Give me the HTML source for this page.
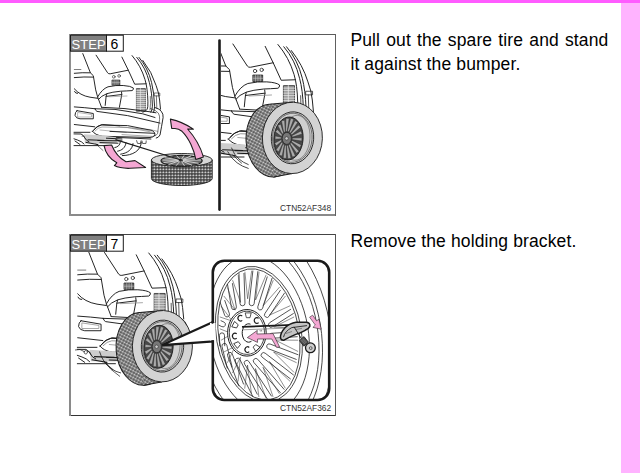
<!DOCTYPE html>
<html><head><meta charset="utf-8">
<style>
html,body{margin:0;padding:0;background:#fff;}
body{width:640px;height:473px;overflow:hidden;position:relative;font-family:"Liberation Sans",sans-serif;}
#topbar{position:absolute;left:0;top:0;width:640px;height:3px;background:#ff5cff;}
#rightbar{position:absolute;left:621px;top:3px;width:19px;height:470px;background:#ffb3ff;}
.txt{position:absolute;font-size:17.5px;letter-spacing:0.12px;color:#000;text-align:justify;text-align-last:left;}
#t1{left:350.4px;top:29px;width:258px;line-height:23.7px;}
#t2{left:350.4px;top:230px;width:258px;line-height:23.7px;}
#art{position:absolute;left:0;top:0;}
</style></head><body>
<div id="topbar"></div>
<div id="rightbar"></div>
<svg id="art" width="640" height="473" viewBox="0 0 640 473">

<defs>
 <pattern id="tread" width="3" height="3" patternUnits="userSpaceOnUse" patternTransform="rotate(32)">
  <rect width="3" height="3" fill="#454545"/>
  <rect x="0.4" y="0.4" width="2.2" height="2.2" rx="0.7" fill="#d8d8d8"/>
 </pattern>
 <pattern id="tread2" width="3" height="3" patternUnits="userSpaceOnUse">
  <rect width="3" height="3" fill="#404040"/>
  <rect x="0.4" y="0.6" width="2" height="1.7" rx="0.6" fill="#cccccc"/>
 </pattern>
 <clipPath id="c6l"><rect x="71" y="52" width="147" height="162"/></clipPath>
 <clipPath id="c6r"><rect x="221" y="36" width="114" height="178"/></clipPath>
 <clipPath id="c7l"><rect x="71" y="252" width="141" height="163"/></clipPath>
 <clipPath id="cin"><rect x="214" y="262" width="114" height="137" rx="10"/></clipPath>
  <g id="car" fill="none" stroke="#1c1c1c" stroke-linejoin="round" stroke-linecap="round">
  <!-- left pillar -->
  <path d="M82.8,53.6 L90.4,72.8 L93.3,75.7 L95.7,89.9 L97.6,96.9 L101.4,106.9"/>
  <path d="M74.3,73.3 Q82,72.4 90.4,72.8"/>
  <path d="M74.3,77.6 Q84,76.6 93.3,77.1"/>
  <path d="M74.3,69.5 L80.9,69.5" stroke="#777"/>
  <!-- hatch glass -->
  <path d="M96.1,55.2 L107.6,72.8 Q108.6,74.1 110.2,73.8 L128.3,70.2"/>
  <path d="M121.9,57.1 L128.3,70.2 L134.7,84.2 L146.1,83.8"/>
  <circle cx="113.8" cy="76.8" r="1.35" stroke-width="0.6"/>
  <circle cx="119.1" cy="75.9" r="1.35" stroke-width="0.6"/>
  <rect x="112.3" y="80" width="7.6" height="5.2" fill="#666" stroke-width="0.6"/>
  <path d="M114.2,80 V85.2 M116.1,80 V85.2 M118,80 V85.2 M112.3,82.6 H119.9" stroke="#ddd" stroke-width="0.4"/>
  <!-- hatch edges -->
  <path d="M132.1,55.6 Q141,66 145,79.6 Q147.6,88 147.9,101.8 Q148,108 147.2,109.2 Q145.5,111.8 142.8,112.2"/>
  <path d="M136.8,57.4 Q146,68 149.4,82.6 Q152,92 152.4,106.2 Q152.2,110.5 150.9,112.2"/>
  <path d="M139,57.4 Q148,68 151.6,82.6 Q154,92 154.6,106.2 Q154.5,110 153.5,112.5"/>
  <path d="M142.8,60.4 Q152,72 156.1,85.5 Q159,93 159.6,100 L160.5,109.2"/>
  <path d="M154.6,93 L159.8,93 L159.8,95.9 L154.6,95.9 Z" stroke-width="0.6"/>
  <!-- tail light -->
  <rect x="136.8" y="88.5" width="8.6" height="22.8" fill="#999" stroke-width="0.6"/>
  <path d="M136.8,90.5H145.4M136.8,92.5H145.4M136.8,94.5H145.4M136.8,96.5H145.4M136.8,98.5H145.4M136.8,100.5H145.4M136.8,102.5H145.4M136.8,104.5H145.4M136.8,106.5H145.4M136.8,108.5H145.4M140.4,88.5V111.3" stroke="#eee" stroke-width="0.6"/>
  <!-- handle/garnish -->
  <path d="M97.6,97 Q102,89 108,86.8 Q116,85 123.2,85.5 Q131,86 133.4,88 Q133.5,90.2 132.1,90.6 Q126,91 120.7,91.2 Q112,92 106.8,93.7 Q101,96 98.5,99.4"/>
  <path d="M106.8,94 L106.1,96.4 L105.2,105.4 M106.1,96.4 L121.8,94.5 L119.4,107.3 M121.5,92 L121.8,94.5"/>
  <path d="M109,96.8 L127,96" stroke="#888" stroke-width="0.6"/>
  <!-- left fender -->
  <path d="M74.3,88.8 Q80,95.5 90,97.2 L97.6,98.3"/>
  <path d="M74.5,91.5 Q75.5,93.8 77.6,93.4"/>
  <!-- bumper top -->
  <path d="M74.3,106.9 Q85,107.6 95,108.75"/>
  <path d="M95,108.75 Q95.5,110.8 97,111.4 L127.5,115.6 L160,123.1"/>
  <path d="M95,108.75 L115,109.4 L142.5,113.75 L155,117.5"/>
  <path d="M101.4,107.3 L125,108.6 L150,111.8 L156,112.8"/>
  <path d="M155,107.5 Q160,109 161.25,111.25 Q163.5,114 163.1,117.5 L161.6,126.3 L160,135 Q158.5,137.8 156.25,138.1"/>
  <path d="M150.5,108.5 Q156.5,110.3 158.4,113.2 Q160,116 159.6,119.5 L158.4,127 L157.6,133.4 Q156.6,135.8 153.8,136.3" stroke-width="0.6"/>
  <path d="M156.4,96 L156.8,108.2 M150.3,96.5 Q150.8,104 150,110" stroke-width="0.6"/>
  <path d="M120,126.8 L150,129.6 L157.8,131.4 M122,134.6 L153,136.4" stroke-width="0.5" stroke="#555"/>
  <!-- left reflector -->
  <path d="M77,110.7 Q75,112 75,115.4 Q76,118.5 80,118.8 L93.3,118.8 L93.3,113.5 L77,110.7 Z"/>
  <path d="M78,112.5 L91.5,114.5 L91.5,117 L78,117 Z" stroke="#888" stroke-width="0.6"/>
  <!-- lower bumper recess -->
  <path d="M92.5,131.25 Q96,126 101.25,125 L127.5,125.6 L152.5,130.6 Q155.5,133 155,135 Q153,137.5 150,137.5 L102.5,136.25 Q95,135 92.5,131.25 Z"/>
  <path d="M95,131 Q98,127.5 102,127 L127.5,127.6 L150,131.8" stroke="#777" stroke-width="0.6"/>
  <path d="M100,130 L126.25,132.5 M132.5,128.1 L152.5,131.25" stroke="#888" stroke-width="0.6"/>
  <path d="M74.3,124.5 L94.7,126.8 M93.8,130 Q98,125 102.3,124.5 L119.4,125.9"/>
  <path d="M110,131.4 L154.7,133.3 M110,137.1 L150.9,139"/>
  <!-- undercarriage -->
  <path d="M84,134.2 L100,135.2 L116,137.2 L117,142.8 L104,143.8 L85,143.6 Z" fill="#cdcdcd" stroke="none"/>
  <path d="M74,132.3 L90,132.3 M74,133.9 L81,134 Q83.5,135 84.5,137.5 Q86,140.5 89,141.8 M74,138.8 Q78,140 81.4,141.8 L84,144 M75,141 L80,144.5 M74,145.6 L105,145.6"/>
  <path d="M86,142.4 L98,144.6 M88,139.8 L104,140.4 M97.8,140.5 L122,140.9 M106.4,138.2 L122,139 M100,142.6 L118,143.2" stroke-width="1"/>
  <path d="M82,136 Q84,134.5 85,138 M96,144 Q99,147 103,150.5" stroke-width="0.6"/>
  <path d="M136.6,140.6 L137.5,143.4 L140.5,143.6 L141,140.9 M142,141 L142.6,143.5 L146,143.4 L146.2,140.9" stroke-width="0.7"/>
  <!-- ripple arcs -->
  <path d="M120.3,142.2 C120,145 118,147 114.8,147.6"/>
  <path d="M126,142.8 C125.5,147.5 122,150.5 117.6,151.2"/>
  <path d="M133,143.6 C132.5,149.5 127.5,153.2 120.6,154.2"/>
  <path d="M141.3,142.2 C141,150.5 133,155.5 122.3,155.6"/>
 </g>

 <g id="tireUp"><ellipse cx="271.9" cy="140.6" rx="25.8" ry="36.5" transform="rotate(-4.4 271.9 140.6)" fill="url(#tread)" stroke="#1c1c1c" stroke-width="1"/>
<path d="M270.49,104.15L292.73,102.2L292.07,173.6L273.31,177.05Z" fill="url(#tread)"/>
<path d="M270.49,104.15L292.73,102.2M292.07,173.6L273.31,177.05" stroke="#1c1c1c" stroke-width="1"/>
<ellipse cx="292.4" cy="137.9" rx="30.0" ry="35.7" transform="rotate(1.7 292.4 137.9)" fill="#d3d3d3" stroke="#1c1c1c" stroke-width="0.9"/>
<ellipse cx="292.5" cy="137.8" rx="21.2" ry="26" transform="rotate(4 292.5 137.8)" fill="#d0d0d0" stroke="#1c1c1c" stroke-width="0.9"/>
<ellipse cx="292.3" cy="137.8" rx="19.8" ry="24.6" transform="rotate(4 292.3 137.8)" fill="none" stroke="#333" stroke-width="0.6"/>
<ellipse cx="296" cy="137.8" rx="14" ry="22.5" transform="rotate(4 296 137.8)" fill="none" stroke="#444" stroke-width="0.5"/>
<ellipse cx="288.5" cy="138.5" rx="14.6" ry="21.5" transform="rotate(4 288.5 138.5)" fill="#484848" stroke="#1c1c1c" stroke-width="0.9"/>
<path d="M292.23,139.58L301.76,141.03L301.98,137.84L292.34,137.99ZM291.38,141.84L299.77,147.68L301.39,144.92L292.19,140.46ZM290.06,143.68L296.57,153.22L299.09,151.24L291.32,142.69ZM288.38,144.94L292.48,157.11L295.44,155.9L289.86,144.34ZM286.48,145.47L287.85,158.86L291.01,158.35L288.06,145.22ZM284.57,145.17L283.19,158.21L286.38,158.35L286.17,145.25ZM282.86,144.05L279.04,155.15L282.14,155.99L284.41,144.46ZM281.6,142.18L275.98,149.98L278.72,151.63L282.97,143.01ZM281.03,139.77L274.55,143.23L276.36,145.87L281.93,141.09ZM281.37,137.22L275.25,135.97L275.02,139.16L281.26,138.81ZM282.35,135.06L277.51,129.52L275.34,131.87L281.27,136.24ZM283.65,133.31L280.64,124.14L277.7,125.39L282.17,133.93ZM285.27,132.06L284.63,120.3L281.45,120.69L283.69,132.26ZM287.12,131.53L289.17,118.55L285.98,118.24L285.53,131.38ZM289,131.83L293.74,119.19L290.69,118.25L287.47,131.35ZM290.66,132.95L297.79,122.23L295.03,120.63L289.27,132.14ZM291.87,134.78L300.76,127.35L298.54,125.05L290.76,133.63ZM292.43,137.11L302.16,133.93L300.93,130.97L291.82,135.63Z" fill="#ababab" stroke="#222" stroke-width="0.4"/>
<ellipse cx="286.8" cy="138.4" rx="4.6" ry="6" fill="#777" stroke="#1c1c1c" stroke-width="0.7"/>
<circle cx="286.6" cy="138.4" r="1.7" fill="#ccc" stroke="#1c1c1c" stroke-width="0.5"/></g>
</defs>


<!-- frames -->
<rect x="69" y="34" width="267" height="1" fill="#5a5a5a"/>
<rect x="69" y="214" width="267" height="2" fill="#8a8a8a"/>
<rect x="69" y="34" width="2" height="182" fill="#8f8f8f"/>
<rect x="335" y="34" width="1" height="182" fill="#606060"/>
<rect x="69" y="234" width="267" height="1" fill="#444"/>
<rect x="69" y="415" width="267" height="1" fill="#333"/>
<rect x="69" y="234" width="2" height="182" fill="#8a8a8a"/>
<rect x="335" y="234" width="1" height="182" fill="#555"/>

<!-- STEP 6 panel left -->
<use href="#car" clip-path="url(#c6l)" stroke-width="0.95"/>
<!-- cable -->
<!-- flat tire -->
<g>
 <path d="M151.4,160 L151.4,178.5 A30.4,7 0 0 0 212.2,178.5 L212.2,160 Z" fill="url(#tread2)" stroke="#1c1c1c" stroke-width="0.9"/>
 <ellipse cx="181.8" cy="160" rx="30.4" ry="6.5" fill="#d6d6d6" stroke="#1c1c1c" stroke-width="0.9"/>
 <ellipse cx="181.6" cy="160.7" rx="20.6" ry="5.3" fill="#6a6a6a" stroke="#1c1c1c" stroke-width="1.1"/>
 <path d="M180.8,160.3 L162.5,160 M180.8,160.3 L164.5,157.6 M180.8,160.3 L169.5,156.2 M180.8,160.3 L176.5,155.6 M180.8,160.3 L184,155.5 M180.8,160.3 L191,155.9 M180.8,160.3 L197.5,157.4 M180.8,160.3 L201,160 M180.8,160.3 L198.5,163.3 M180.8,160.3 L192,165.3 M180.8,160.3 L184.5,165.9 M180.8,160.3 L176,165.8 M180.8,160.3 L168.5,164.6 M180.8,160.3 L163.5,162.6" stroke="#d8d8d8" stroke-width="0.9"/>
 <ellipse cx="180.8" cy="160.3" rx="2.2" ry="1.2" fill="#333"/>
 <path d="M115.5,139.6 L181,160" stroke="#1c1c1c" stroke-width="1.1"/>
</g>
<!-- pink arrow 1 -->
<path d="M170.4,119.1 Q182,121.5 193.4,129.1 L187.6,129 C193,135 200,145 203.4,156.9 L195.8,159.4 C194,150 189,138 182,131.3 Q178.5,128.6 175,128.5 L171.7,128.4 Z" fill="#f4a7d3" stroke="#1c1c1c" stroke-width="1.1" stroke-linejoin="round"/>
<!-- pink arrow 2 -->
<path d="M104,145.6 C105.5,153 110,159 116.8,162.8 L114.4,165.6 Q120,168.6 130,168.3 L145.6,167.5 L135,160.6 L126,161.8 C119,158 114.5,152 111.6,145 Z" fill="#f4a7d3" stroke="#1c1c1c" stroke-width="1.1" stroke-linejoin="round"/>

<!-- divider -->
<line x1="219.5" y1="40.5" x2="219.5" y2="209.6" stroke="#1a1a1a" stroke-width="2.6" stroke-linecap="round"/>

<!-- STEP 6 panel right -->
<g clip-path="url(#c6r)">
 <use href="#car" transform="translate(112.8,-25) scale(1.25)" stroke-width="0.78"/>
 <path d="M231.4,147.6 Q234,155 239,159 Q243,162.5 248.6,164.7 M227.6,151.4 Q231,158.5 237.1,162.8 Q242,166.5 248.6,168.5" fill="none" stroke="#1c1c1c" stroke-width="0.8"/>
 <use href="#tireUp"/>
</g>

<!-- STEP 7 left -->
<g clip-path="url(#c7l)">
 <use href="#car" transform="translate(-13.7,184.6) scale(1.23)" stroke-width="0.78"/>
 <path d="M99.5,351.5 Q103,363 111,368.5 Q116,372 121,373" fill="none" stroke="#1c1c1c" stroke-width="0.8"/>
 <path d="M104,361 Q110,370 120,376.5" fill="none" stroke="#1c1c1c" stroke-width="0.7"/>
 <path d="M75,350 Q80,348 85,352 M86.9,351 A1.7,1.7 0 1 0 87,351.1" fill="none" stroke="#1c1c1c" stroke-width="0.7"/>
 <use href="#tireUp" transform="translate(-130,208.3)"/>
</g>
<!-- wedge -->
<path d="M162.2,345.1 L214,321.5 L214,341.6 Z" fill="#fff"/>
<path d="M213.6,321.7 L162.2,345.1 L213.6,341.3" fill="none" stroke="#1a1a1a" stroke-width="2.2" stroke-linejoin="miter"/>
<!-- inset -->
<rect x="212.8" y="260.8" width="116.4" height="139.2" rx="11.5" fill="#fff"/>
<g clip-path="url(#cin)" fill="none" stroke="#1c1c1c" stroke-width="0.75">
<ellipse cx="258.9" cy="334.35" rx="49.42" ry="79.58" transform="rotate(-9.8 258.9 334.35)"/>
<ellipse cx="258.9" cy="334.35" rx="58.79" ry="94.67" transform="rotate(-9.8 258.9 334.35)"/>
<ellipse cx="258.9" cy="334.35" rx="62.2" ry="100.16" transform="rotate(-9.8 258.9 334.35)"/>
<ellipse cx="258.9" cy="334.35" rx="71.57" ry="115.25" transform="rotate(-9.8 258.9 334.35)"/>
<ellipse cx="258.9" cy="334.35" rx="42.6" ry="68.6" transform="rotate(-9.8 258.9 334.35)"/>
<ellipse cx="258.9" cy="334.35" rx="40.2" ry="66.2" transform="rotate(-9.8 258.9 334.35)"/>
<path d="M297.7,336.68L271.93,338.29A2.5,2.5 0 0 1 271.62,333.3L297.39,331.69M296.61,359.54L268.3,348.71A2.5,2.5 0 0 1 270.09,344.04L298.4,354.87M290.73,379.13L262.08,357.11A2.5,2.5 0 0 1 265.12,353.14L293.78,375.16M280.62,392.95L253.88,362.51A2.5,2.5 0 0 1 257.63,359.21L284.38,389.65M267.46,399.13L244.62,364.17A2.5,2.5 0 0 1 248.8,361.43L271.65,396.39M252.94,396.78L235.46,361.81A2.5,2.5 0 0 1 239.93,359.57L257.41,394.54M238.95,386.15L227.58,355.69A2.5,2.5 0 0 1 232.26,353.94L243.64,384.4M227.36,368.61L222.01,346.56A2.5,2.5 0 0 1 226.87,345.38L232.22,367.43M219.72,346.27L219.49,335.39A2.5,2.5 0 0 1 224.49,335.29L224.72,346.16M220.68,320.55L223.98,322.11A2.5,2.5 0 0 1 221.84,326.63L218.53,325.06M224.65,300.13L229.42,313.71A2.5,2.5 0 0 1 224.71,315.37L219.94,301.78M232.39,283.2L236.37,306.76A2.5,2.5 0 0 1 231.44,307.59L227.46,284.03M243.97,273.05L244.99,303.19A2.5,2.5 0 0 1 239.99,303.35L238.98,273.21M257.86,271.19L254.16,303.64A2.5,2.5 0 0 1 249.2,303.07L252.89,270.63M272.13,278.01L262.61,308.17A2.5,2.5 0 0 1 257.84,306.66L267.37,276.51M284.74,292.7L269.05,316.29A2.5,2.5 0 0 1 264.88,313.52L280.58,289.93M293.71,313.3L272.34,326.92A2.5,2.5 0 0 1 269.65,322.7L291.02,309.08" stroke-width="0.75"/>
<path d="M298.05,340.22L275.11,340L298.03,351.48M296.64,362.73L273.63,352.02L294.07,372.48M290.14,381.42L269.43,361.56L285.37,388.34M279.42,393.74L263.08,367.32L273.09,396.9M265.93,398.05L255.44,368.54L258.89,397.02M251.49,393.75L247.53,365.05L244.7,388.67M238.05,381.43L240.43,357.32L232.42,372.99M227.42,362.75L235.1,346.39L223.72,352.08M221.05,340.24L232.25,333.74L219.77,328.79M219.79,316.93L232.27,321.08L221.11,306.24M223.81,295.97L235.15,310.12L227.54,287.49M232.57,280.2L240.52,302.33L238.22,275.07M244.89,271.74L247.64,298.78L251.69,270.65M259.09,271.74L255.55,299.93L266.13,274.84M273.28,280.19L263.18,305.64L279.59,287.07M285.52,295.96L269.51,315.13L290.26,305.68M294.16,316.91L273.67,327.13L296.7,328.16" stroke="#333" stroke-width="0.55"/>
<ellipse cx="246.9" cy="332.8" rx="19.3" ry="23.3" fill="#fff" stroke-width="1"/>
<ellipse cx="246.9" cy="332.8" rx="17.6" ry="21.6" stroke-width="0.8"/>
<path d="M-3,-2.3 L3,-2.3 L1.8,2.5 L-1.8,2.5 Z" transform="translate(248.2 315.2) rotate(0)" stroke-width="0.75"/>
<path d="M-3,-2.3 L3,-2.3 L1.8,2.5 L-1.8,2.5 Z" transform="translate(235.2 325.2) rotate(-62)" stroke-width="0.75"/>
<path d="M-3,-2.3 L3,-2.3 L1.8,2.5 L-1.8,2.5 Z" transform="translate(237.4 344.6) rotate(-128)" stroke-width="0.75"/>
<path d="M-3,-2.3 L3,-2.3 L1.8,2.5 L-1.8,2.5 Z" transform="translate(256.2 347.6) rotate(135)" stroke-width="0.75"/>
<path d="M1.9,-2.1 A2.5,2.9 0 1 0 1.9,2.1" transform="translate(240.3 318.2)" stroke-width="1.15"/>
<path d="M1.9,-2.1 A2.5,2.9 0 1 0 1.9,2.1" transform="translate(256.7 320.5)" stroke-width="1.15"/>
<path d="M1.9,-2.1 A2.5,2.9 0 1 0 1.9,2.1" transform="translate(234.8 336)" stroke-width="1.15"/>
<path d="M1.9,-2.1 A2.5,2.9 0 1 0 1.9,2.1" transform="translate(247.3 349.6)" stroke-width="1.15"/>
<path d="M250.5,324.2 A6.4,9.2 0 1 0 251.5,341.2" stroke-width="1"/>
<path d="M242,326.9 L300,324.6" stroke="#1a1a1a" stroke-width="1.7"/>
<path d="M243,329.8 L284,328.2" stroke="#444" stroke-width="0.5"/>
<path d="M260,329.9 L260.3,331.5 M261.5,329.9 L261.7,331.5" stroke-width="0.5"/>
</g>
<path d="M247.3,337.6 L257.3,330.4 L256.9,334 L273,333.6 L279.6,346.9 L276.6,347.4 L271.8,339 L257.6,339 L257.5,342.4 Z" fill="#f4a7d3" stroke="#1c1c1c" stroke-width="0.6" stroke-linejoin="round"/>
<path d="M280.6,338.2 Q279.8,333.5 285,327.8 Q289.8,323.2 296,322.3 L306.5,322.2 Q310.4,322.8 309.8,326.4 Q308.8,328.8 305.2,330.3 Q300,333.2 295.8,334.4 Q289.8,336.8 284,340.2 Q281.2,340.6 280.6,338.2 Z" fill="#c4c4c4" stroke="#1a1a1a" stroke-width="1.5"/>
<path d="M283.5,337.2 Q284.8,331.2 291.8,327.6 L307,325.6" stroke="#222" stroke-width="0.9" fill="none"/>
<path d="M286,333.5 L292,331.5 M296,329.5 L302,328.3" stroke="#555" stroke-width="0.6" fill="none"/>
<path d="M294,326.8 L301.5,338.8" stroke="#1a1a1a" stroke-width="0.9"/>
<path d="M299.4,340.6 L304,336.6 L308.4,342.2 L303.8,346.2 Z" fill="#4a4a4a" stroke="#1a1a1a" stroke-width="0.8"/>
<path d="M300.4,339.8 L305,344 M301.4,339 L306,343.2 M302.4,338.2 L306.9,342.4" stroke="#bbb" stroke-width="0.4"/>
<circle cx="310.4" cy="347.8" r="4.9" fill="#d0d0d0" stroke="#1a1a1a" stroke-width="1.3"/>
<circle cx="310.7" cy="348.1" r="1.4" fill="none" stroke="#333" stroke-width="0.7"/>
<path d="M309.6,317.2 L312.6,315.2 L316.6,320.8 L318.9,319.2 L321.2,329.2 L312.9,327.4 L315.3,325 Z" fill="#f4a7d3" stroke="#1c1c1c" stroke-width="0.55" stroke-linejoin="round"/>
<rect x="212.8" y="260.8" width="116.4" height="139.2" rx="11.5" fill="none" stroke="#1a1a1a" stroke-width="2.6"/>
<rect x="210" y="322.8" width="5.5" height="17.6" fill="#fff"/>
<path d="M214,321.7 L211.5,322.9 M214,341.3 L211.5,341.35" stroke="#1a1a1a" stroke-width="2.2"/>

<!-- labels -->
<rect x="70.5" y="35.2" width="36" height="16" fill="#808080" stroke="#1a1a1a" stroke-width="1"/>
<rect x="106.5" y="35.2" width="16.8" height="16" fill="#fff" stroke="#1a1a1a" stroke-width="1"/>
<text x="71.6" y="48.8" font-family="Liberation Sans, sans-serif" font-size="13" fill="#fff">STEP</text>
<text x="110.6" y="49.3" font-family="Liberation Sans, sans-serif" font-size="14" fill="#000">6</text>
<rect x="70.5" y="235.2" width="36" height="16" fill="#808080" stroke="#1a1a1a" stroke-width="1"/>
<rect x="106.5" y="235.2" width="16.8" height="16" fill="#fff" stroke="#1a1a1a" stroke-width="1"/>
<text x="71.6" y="248.8" font-family="Liberation Sans, sans-serif" font-size="13" fill="#fff">STEP</text>
<text x="110.6" y="249.3" font-family="Liberation Sans, sans-serif" font-size="14" fill="#000">7</text>

<text x="331.2" y="210.6" text-anchor="end" font-family="Liberation Sans, sans-serif" font-size="8.4" fill="#333">CTN52AF348</text>
<text x="331.2" y="410.6" text-anchor="end" font-family="Liberation Sans, sans-serif" font-size="8.4" fill="#333">CTN52AF362</text>

</svg>
<div class="txt" id="t1">Pull out the spare tire and stand it against the bumper.</div>
<div class="txt" id="t2">Remove the holding bracket.</div>
</body></html>
